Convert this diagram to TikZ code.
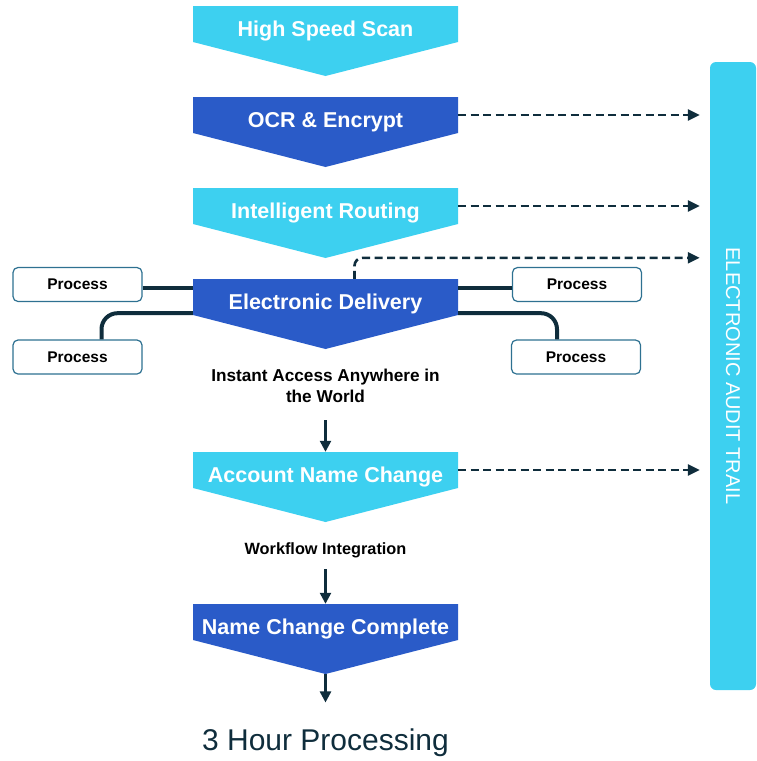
\documentclass[tikz,border=0pt]{standalone}
\usepackage{fontspec}
\setmainfont{Liberation Sans}
\usetikzlibrary{arrows.meta}

\definecolor{scancyan}{HTML}{3DD0F0}
\definecolor{scanblue}{HTML}{2A5BC8}
\definecolor{inkdark}{HTML}{0F2D3C}
\definecolor{boxedge}{HTML}{2E7191}

\tikzset{
  chevtext/.style={minimum width=265pt, minimum height=36pt, inner sep=0pt,
    text height=25pt, text depth=0pt,
    text=white, font=\fontsize{21.5}{24}\selectfont\bfseries},
  procbox/.style={draw=boxedge, line width=1.2pt, rounded corners=5pt, fill=white,
    minimum width=129pt, minimum height=34pt, inner sep=0pt,
    font=\fontsize{15.5}{18}\selectfont\bfseries},
  note/.style={align=center, font=\fontsize{17.2}{21}\selectfont\bfseries},
  flow/.style={draw=inkdark, line width=2.4pt, -{Triangle[length=11pt,width=11pt]}},
  audit/.style={draw=inkdark, line width=2.6pt, dash pattern=on 8pt off 4.5pt,
    -{Triangle[length=12pt,width=11pt]}, shorten >=10pt},
  link/.style={draw=inkdark, line width=4pt},
  trail/.style={fill=scancyan, rounded corners=6pt, minimum width=46pt, minimum height=628pt},
}

% name, top, colour, text
\newcommand{\chevron}[4]{%
  \fill[#3] (\chevL,#2) -- (\chevR,#2) -- (\chevR,#2+36) -- (\chevM,#2+70) -- (\chevL,#2+36) -- cycle;
  \node[chevtext] (#1) at (\chevM,#2+18) {#4};
  \coordinate (#1-tip) at (\chevM,#2+70);
}

\begin{document}
\begin{tikzpicture}[x=1pt, y=-1pt]
            \useasboundingbox (0,0) rectangle (757,761);
            \def\chevL{193}
            \def\chevR{458}
            \def\chevM{325.5}

            \chevron{scan}{6}{scancyan}{High Speed Scan}
            \chevron{ocr}{97}{scanblue}{OCR \& Encrypt}
            \chevron{route}{188}{scancyan}{Intelligent Routing}
            \chevron{deliver}{279}{scanblue}{Electronic Delivery}
            \chevron{account}{452}{scancyan}{Account Name Change}
            \chevron{done}{604}{scanblue}{Name Change Complete}

            \node[procbox] (procA) at (77.5,284.5) {Process};
            \node[procbox] (procB) at (77.5,357) {Process};
            \node[procbox] (procC) at (577,284.5) {Process};
            \node[procbox] (procD) at (576,357) {Process};

            \draw[link] ([yshift=-3pt]procA.east) -- ([yshift=-3pt]procA.east -| deliver.west);
            \draw[link] ([yshift=-3pt]procC.west) -- ([yshift=-3pt]procC.west -| deliver.east);
            \draw[link, rounded corners=16pt] ([yshift=2pt]deliver.south west) -| ([xshift=24pt]procB.north);
            \draw[link, rounded corners=16pt] ([yshift=2pt]deliver.south east) -| ([xshift=-19pt]procD.north);

            \node[trail] (trail) at (733,376) {};
            \node[rotate=-90, text=white, font=\fontsize{20}{22}\selectfont] (trailtext) at (trail.center) {ELECTRONIC AUDIT TRAIL};

            \draw[audit] (ocr.east) -- (ocr.east -| trail.west);
            \draw[audit] (route.east) -- (route.east -| trail.west);
            \draw[audit, rounded corners=8pt] ([xshift=29pt]deliver.north) |- ([yshift=21pt]deliver.north -| trail.west);
            \draw[audit] (account.east) -- (account.east -| trail.west);

            \node[note] (access) at (\chevM,386) {Instant Access Anywhere in\\the World};
            \node[note, font=\fontsize{16.3}{21}\selectfont\bfseries] (workflow) at (\chevM,550) {Workflow Integration};
            \node[text=inkdark, font=\fontsize{30}{36}\selectfont] (hours) at (\chevM,743) {3 Hour Processing};

            \draw[flow] ([yshift=-14pt]access.south) -- (account.north);
            \draw[flow] ([yshift=-8pt]workflow.south) -- (done.north);
            \draw[flow] (done-tip) -- ([yshift=23pt]hours.north);
\end{tikzpicture}
\end{document}
